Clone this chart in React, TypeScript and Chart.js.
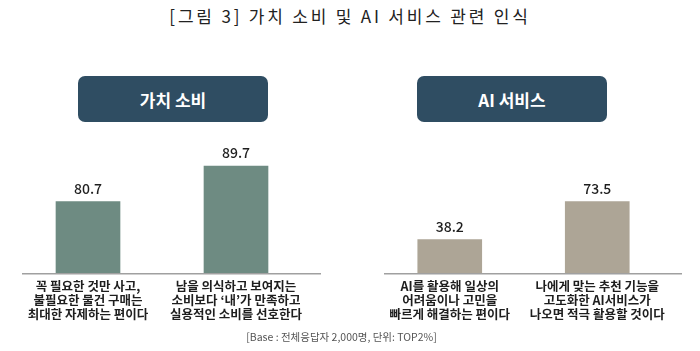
import React, { useEffect, useRef } from "react";
import { Chart, registerables } from "chart.js";

Chart.register(...registerables);

const TITLE = "[그림 3] 가치 소비 및 AI 서비스 관련 인식";
const FOOTNOTE = "[Base : 전체응답자 2,000명, 단위: TOP2%]";

const valueHeader = "가치 소비";
const valueCategories = [
  ["꼭 필요한 것만 사고,", "불필요한 물건 구매는", "최대한 자제하는 편이다"],
  ["남을 의식하고 보여지는", "소비보다 ‘내’가 만족하고", "실용적인 소비를 선호한다"],
];
const valueValues = [80.7, 89.7];

const aiHeader = "AI 서비스";
const aiCategories = [
  ["AI를 활용해 일상의", "어려움이나 고민을", "빠르게 해결하는 편이다"],
  ["나에게 맞는 추천 기능을", "고도화한 AI서비스가", "나오면 적극 활용할 것이다"],
];
const aiValues = [38.2, 73.5];

const FONT = "'Noto Sans CJK KR', 'Noto Sans', sans-serif";

const valueLabelPlugin = {
  id: "valueLabels",
  afterDatasetsDraw(chart: any) {
    const ctx = chart.ctx;
    const meta = chart.getDatasetMeta(0);
    const data = chart.data.datasets[0].data;
    ctx.save();
    ctx.font = `500 14px ${FONT}`;
    ctx.fillStyle = "#1e1e1e";
    ctx.textAlign = "center";
    ctx.textBaseline = "alphabetic";
    meta.data.forEach((bar: any, i: number) => {
      ctx.fillText(Number(data[i]).toFixed(1), bar.x, bar.y - 8);
    });
    ctx.restore();
  },
};

const baselinePlugin = {
  id: "baseline",
  afterDatasetsDraw(chart: any, _args: any, opts: any) {
    const ctx = chart.ctx;
    const { left, right, bottom } = chart.chartArea;
    ctx.save();
    ctx.strokeStyle = "#a0a0a0";
    ctx.lineWidth = 1.5;
    ctx.beginPath();
    ctx.moveTo(left + (opts.extLeft || 0), bottom);
    ctx.lineTo(right + (opts.extRight || 0), bottom);
    ctx.stroke();
    ctx.restore();
  },
};

function BarPanel(props: {
  left: number;
  categories: string[][];
  values: number[];
  color: string;
  yMin: number;
  yMax: number;
  padLeft: number;
  padRight: number;
  extLeft: number;
  extRight: number;
}) {
  const ref = useRef<HTMLCanvasElement>(null);
  useEffect(() => {
    if (!ref.current) return;
    const chart = new Chart(ref.current, {
      type: "bar",
      data: {
        labels: props.categories,
        datasets: [
          {
            data: props.values,
            backgroundColor: props.color,
            barThickness: 64,
            borderWidth: 0,
          },
        ],
      },
      options: {
        animation: false,
        responsive: false,
        maintainAspectRatio: false,
        layout: {
          padding: { top: 140, bottom: 24, left: props.padLeft, right: props.padRight },
        },
        plugins: {
          legend: { display: false },
          tooltip: { enabled: false },
          baseline: { extLeft: props.extLeft, extRight: props.extRight },
        } as any,
        scales: {
          x: {
            grid: { display: false, drawTicks: false },
            border: { display: false },
            ticks: {
              color: "#1e1e1e",
              font: { family: FONT, size: 12.5, weight: "bold", lineHeight: 1.1 },
              padding: 6,
              maxRotation: 0,
              autoSkip: false,
            },
          },
          y: {
            display: false,
            min: props.yMin,
            max: props.yMax,
          },
        },
      },
      plugins: [valueLabelPlugin, baselinePlugin],
    });
    return () => chart.destroy();
  }, []);
  return (
    <canvas
      ref={ref}
      width={350}
      height={351}
      style={{ position: "absolute", left: props.left, top: 0, width: 350, height: 351 }}
    />
  );
}

function Header(props: { text: string; left: number; width: number }) {
  return (
    <div
      style={{
        position: "absolute",
        left: props.left,
        top: 76,
        width: props.width,
        height: 46,
        background: "#2f4d62",
        borderRadius: 7,
        color: "#ffffff",
        fontFamily: FONT,
        fontWeight: 700,
        fontSize: 17,
        display: "flex",
        alignItems: "center",
        justifyContent: "center",
      }}
    >
      {props.text}
    </div>
  );
}

export default function App() {
  return (
    <div
      style={{
        position: "absolute",
        left: 0,
        top: 0,
        width: 700,
        height: 351,
        background: "#ffffff",
        overflow: "hidden",
      }}
    >
      <div
        style={{
          position: "absolute",
          left: 0,
          top: 5,
          width: 700,
          textAlign: "center",
          fontFamily: FONT,
          fontSize: 17,
          color: "#222",
          letterSpacing: 2.8,
          lineHeight: "22px",
        }}
      >
        {TITLE}
      </div>
      <Header text={valueHeader} left={78} width={190} />
      <Header text={aiHeader} left={417} width={190} />
      <BarPanel
        left={0}
        categories={valueCategories}
        values={valueValues}
        color="#6e8b82"
        yMin={62.42}
        yMax={96.33}
        padLeft={14}
        padRight={40}
        extLeft={8}
        extRight={11}
      />
      <BarPanel
        left={350}
        categories={aiCategories}
        values={aiValues}
        color="#ada596"
        yMin={6.37}
        yMax={130.9}
        padLeft={26}
        padRight={29}
        extLeft={8}
        extRight={11}
      />
      <div
        style={{
          position: "absolute",
          left: 0,
          top: 330,
          width: 683,
          textAlign: "center",
          fontFamily: FONT,
          fontSize: 10.5,
          color: "#555",
          lineHeight: "14px",
        }}
      >
        {FOOTNOTE}
      </div>
    </div>
  );
}
